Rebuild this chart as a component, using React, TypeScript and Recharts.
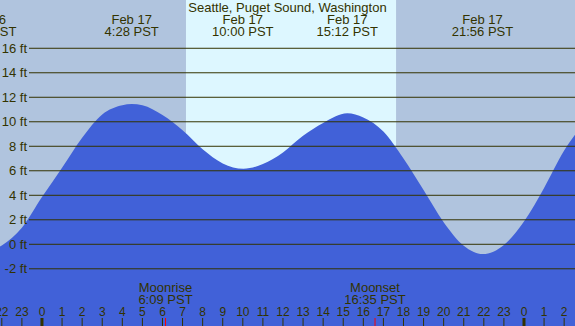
import {
  AreaChart,
  Area,
  XAxis,
  YAxis,
  ReferenceArea,
  ReferenceLine,
} from "recharts";

// tide height (ft), hours from midnight Feb 17
const hours = [-3, -2, -1, 0, 1, 2, 3, 4, 4.47, 5, 6, 7, 8, 9, 10.03, 11, 12, 13, 14, 15.2, 16, 17, 18, 19, 20, 21, 21.95, 23, 24, 25, 26, 27];
const heights = [-0.75, -0.1, 1.35, 3.85, 6.25, 8.7, 10.6, 11.35, 11.45, 11.35, 10.55, 9.3, 7.75, 6.6, 6.17, 6.55, 7.5, 8.85, 9.9, 10.69, 10.35, 9.2, 7.0, 4.43, 1.8, -0.12, -0.8, -0.05, 1.85, 4.6, 7.65, 9.9];

const tideTimes = [-2.8, 4.467, 10.0, 15.2, 21.933];
const tideDates = ["Feb 16", "Feb 17", "Feb 17", "Feb 17", "Feb 17"];
const tideLabels = ["21:12 PST", "4:28 PST", "10:00 PST", "15:12 PST", "21:56 PST"];

const moonTimes = [6.15, 16.583];
const moonNames = ["Moonrise", "Moonset"];
const moonLabels = ["6:09 PST", "16:35 PST"];

const sunrise = 7.17;
const sunset = 17.63;

const gridLevels = [-2, 0, 2, 4, 6, 8, 10, 12, 14, 16];
const hourTicks = [-2, -1, 0, 1, 2, 3, 4, 5, 6, 7, 8, 9, 10, 11, 12, 13, 14, 15, 16, 17, 18, 19, 20, 21, 22, 23, 24, 25, 26];

const title = "Seattle, Puget Sound, Washington";

const data = hours.map((h, i) => ({ hour: h, height: heights[i] }));

const W = 575;
const H = 326;
const ink = "#333300";
const font = "'Liberation Sans', Arial, sans-serif";

export default function App() {
  return (
    <div style={{ position: "absolute", left: 0, top: 0, width: W, height: H, background: "#B0C4DE" }}>
      <AreaChart width={W} height={H} data={data} margin={{ top: 0, right: 0, bottom: 0, left: 0 }}>
        <XAxis type="number" dataKey="hour" domain={[-2.09, 26.54]} allowDataOverflow hide />
        <YAxis type="number" domain={[-6.67, 19.94]} allowDataOverflow hide />
        <ReferenceArea x1={sunrise} x2={sunset} fill="#DDF7FF" fillOpacity={1} stroke="none" zIndex={-10} />
        <Area
          type="monotone"
          dataKey="height"
          baseValue="dataMin"
          fill="#4161D8"
          fillOpacity={1}
          stroke="none"
          dot={false}
          activeDot={false}
          isAnimationActive={false}
        />
        {gridLevels.map((lv) => (
          <ReferenceLine
            key={`g${lv}`}
            y={lv}
            zIndex={450}
            shape={(p: any) => (
              <g>
                <line x1={29} x2={W} y1={p.y1} y2={p.y1} stroke={ink} strokeWidth={1} />
                <text x={27} y={p.y1 + 4.5} textAnchor="end" fontSize={13} fill={ink} fontFamily={font}>
                  {lv} ft
                </text>
              </g>
            )}
          />
        ))}
        {hourTicks.map((h) => {
          const label = ((h % 24) + 24) % 24;
          return (
            <ReferenceLine
              key={`h${h}`}
              x={h}
              ifOverflow="visible"
              zIndex={455}
              shape={(p: any) => (
                <g>
                  <line x1={p.x1} x2={p.x1} y1={318} y2={326} stroke={ink} strokeWidth={label === 0 ? 3 : 1} />
                  <text x={p.x1} y={316} textAnchor="middle" fontSize={12} fill={ink} fontFamily={font}>
                    {label}
                  </text>
                </g>
              )}
            />
          );
        })}
        {tideTimes.map((t, i) => (
          <ReferenceLine
            key={`t${i}`}
            x={t}
            ifOverflow="visible"
            zIndex={460}
            shape={(p: any) => (
              <g fontSize={13} fill={ink} fontFamily={font} textAnchor="middle">
                <text x={p.x1} y={23.5}>{tideDates[i]}</text>
                <text x={p.x1} y={36}>{tideLabels[i]}</text>
              </g>
            )}
          />
        ))}
        {moonTimes.map((t, i) => (
          <ReferenceLine
            key={`m${i}`}
            x={t}
            zIndex={460}
            shape={(p: any) => (
              <g fontSize={13} fill={ink} fontFamily={font} textAnchor="middle">
                <line x1={p.x1} x2={p.x1} y1={318} y2={326} stroke="#FF0000" strokeWidth={1} />
                <text x={p.x1} y={291.5}>{moonNames[i]}</text>
                <text x={p.x1} y={304}>{moonLabels[i]}</text>
              </g>
            )}
          />
        ))}
        <text x={W / 2} y={12} textAnchor="middle" fontSize={13} fill={ink} fontFamily={font}>
          {title}
        </text>
      </AreaChart>
    </div>
  );
}
